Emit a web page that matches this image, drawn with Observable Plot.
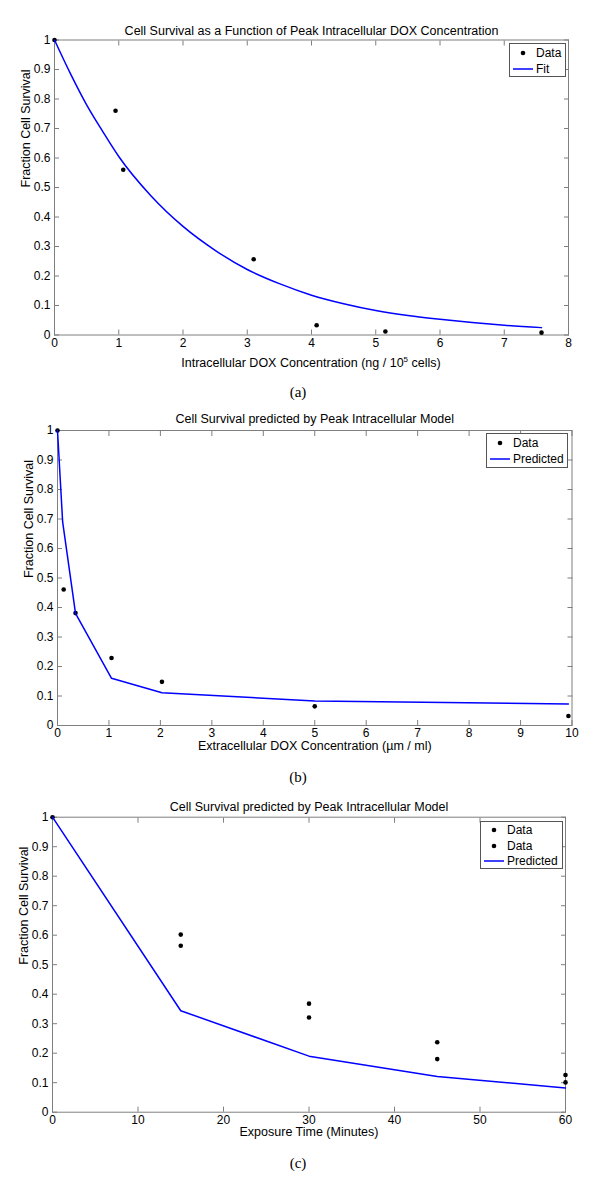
<!DOCTYPE html>
<html><head><meta charset="utf-8">
<script src="https://cdn.jsdelivr.net/npm/d3@7"></script>
<script src="https://cdn.jsdelivr.net/npm/@observablehq/plot@0.6"></script>
<style>
body{margin:0;background:#fff;width:600px;height:1188px;position:relative;overflow:hidden;font-family:"Liberation Sans",Arial,sans-serif;}
.panel{position:absolute;left:0;}
.cap{position:absolute;left:0;width:596px;text-align:center;font-family:"Liberation Serif","Times New Roman",serif;font-size:15px;line-height:18px;color:#000;}
.legend{position:absolute;border:1px solid #555;background:#fff;font-size:12px;color:#000;box-sizing:border-box;}
.legend .row{position:absolute;left:0;height:14px;line-height:14px;white-space:nowrap;}
.legend svg{position:absolute;left:0;top:0;}
.legend span{position:absolute;left:26px;top:0;}
.xlab{position:absolute;text-align:center;font-size:12.5px;line-height:14px;color:#000;}
.xlab sup{font-size:8px;vertical-align:5px;line-height:0;}
</style></head><body>
<script>
// ---------- Data ----------
const yTicks = [0, 0.1, 0.2, 0.3, 0.4, 0.5, 0.6, 0.7, 0.8, 0.9, 1];

// Panel (a)
const xTicksA = [0, 1, 2, 3, 4, 5, 6, 7, 8];
const dataAX = [0, 0.95, 1.07, 3.1, 4.08, 5.15, 7.58];
const dataAY = [1, 0.76, 0.56, 0.257, 0.033, 0.012, 0.008];
const fitAX = [0, 0.25, 0.5, 0.75, 1, 1.5, 2, 2.5, 3, 3.5, 4, 4.5, 5, 5.5, 6, 6.5, 7, 7.58];
const fitAY = [1, 0.885, 0.78, 0.69, 0.605, 0.472, 0.368, 0.287, 0.222, 0.174, 0.135, 0.106, 0.083, 0.066, 0.053, 0.042, 0.033, 0.025];

// Panel (b)
const xTicksB = [0, 1, 2, 3, 4, 5, 6, 7, 8, 9, 10];
const dataBX = [0, 0.12, 0.35, 1.05, 2.03, 5.0, 9.93];
const dataBY = [1, 0.461, 0.381, 0.229, 0.148, 0.065, 0.032];
const predBX = [0, 0.1, 0.35, 1.05, 2.03, 5.0, 9.93];
const predBY = [1, 0.69, 0.38, 0.16, 0.111, 0.083, 0.073];

// Panel (c)
const xTicksC = [0, 10, 20, 30, 40, 50, 60];
const dataC1X = [0, 15, 30, 45, 60];
const dataC1Y = [1, 0.602, 0.368, 0.237, 0.126];
const dataC2X = [15, 30, 45, 60];
const dataC2Y = [0.564, 0.321, 0.180, 0.101];
const predCX = [0, 15, 30, 45, 60];
const predCY = [1, 0.344, 0.19, 0.121, 0.082];

// ---------- Helpers ----------
const zip = (xs, ys) => xs.map((x, i) => ({x, y: ys[i]}));
const GRAY = "#7f7f7f";
const BLUE = "#0000ff";
const FONT = "Liberation Sans, Arial, sans-serif";
const TICKFS = 12;
const LABFS = 12.5;

function panel(cfg) {
  const chart = Plot.plot({
    width: 600, height: cfg.height,
    marginLeft: cfg.ml, marginRight: cfg.mr, marginTop: cfg.mt, marginBottom: cfg.mb,
    x: {domain: cfg.xDomain},
    y: {domain: [0, 1]},
    style: {fontFamily: FONT, fontSize: "12px", color: "black", background: "white", overflow: "visible"},
    marks: [
      Plot.frame({stroke: GRAY}),
      Plot.axisX(cfg.xTicks, {anchor: "bottom", tickSize: -5, tickPadding: 8, stroke: GRAY, fill: "black", label: null, tickFormat: d => String(d), fontSize: TICKFS}),
      Plot.axisX(cfg.xTicks, {anchor: "top", tickSize: -5, stroke: GRAY, fill: "black", label: null, tickFormat: () => ""}),
      Plot.axisY(yTicks, {anchor: "left", tickSize: -5, tickPadding: 9, stroke: GRAY, fill: "black", label: null, tickFormat: d => String(d), fontSize: TICKFS}),
      Plot.axisY(yTicks, {anchor: "right", tickSize: -5, stroke: GRAY, fill: "black", label: null, tickFormat: () => ""}),
      ...cfg.marks,
      Plot.text([cfg.title], {frameAnchor: "top", dy: -cfg.titleDy, fill: "black", fontSize: LABFS}),
      Plot.text(["Fraction Cell Survival"], {frameAnchor: "left", rotate: -90, dx: -29, fill: "black", fontSize: LABFS}),
      ...(cfg.xlabel ? [Plot.text([cfg.xlabel], {frameAnchor: "bottom", dy: cfg.xlabelDy, fill: "black", fontSize: LABFS})] : [])
    ]
  });
  chart.classList.add("panel");
  chart.style.top = cfg.top + "px";
  chart.style.position = "absolute";
  chart.querySelectorAll('g[aria-label$="tick label"]').forEach(g => {
    g.setAttribute("font-size", TICKFS);
    g.style.fontSize = TICKFS + "px";
    g.style.fontFamily = FONT;
  });
  document.body.appendChild(chart);
}

function legend(left, top, w, h, rows, rowYs) {
  const box = document.createElement("div");
  box.className = "legend";
  Object.assign(box.style, {left: left + "px", top: top + "px", width: w + "px", height: h + "px"});
  rows.forEach((r, i) => {
    const row = document.createElement("div");
    row.className = "row";
    row.style.top = (rowYs[i] - 7) + "px";
    row.style.width = (w - 2) + "px";
    const svg = r.type === "dot"
      ? `<svg width="26" height="14"><circle cx="13" cy="7" r="2.3" fill="black"/></svg>`
      : `<svg width="26" height="14"><line x1="3" x2="23" y1="7" y2="7" stroke="${BLUE}" stroke-width="1.5"/></svg>`;
    row.innerHTML = svg + `<span>${r.label}</span>`;
    box.appendChild(row);
  });
  document.body.appendChild(box);
}

function caption(text, cy) {
  const d = document.createElement("div");
  d.className = "cap";
  d.style.top = (cy - 9) + "px";
  d.textContent = text;
  document.body.appendChild(d);
}

// ---------- Panel (a) ----------
panel({
  top: 0, height: 375, ml: 54, mr: 32, mt: 39.5, mb: 40.5,
  xDomain: [0, 8], xTicks: xTicksA,
  title: "Cell Survival as a Function of Peak Intracellular DOX Concentration", titleDy: 14,
  marks: [
    Plot.dot(zip(dataAX, dataAY), {x: "x", y: "y", r: 2.3, fill: "black"}),
    Plot.line(zip(fitAX, fitAY), {x: "x", y: "y", stroke: BLUE, strokeWidth: 1.5, curve: "monotone-x"})
  ]
});
{
  const d = document.createElement("div");
  d.className = "xlab";
  Object.assign(d.style, {left: "111px", width: "400px", top: "356px"});
  d.innerHTML = "Intracellular DOX Concentration (ng / 10<sup>5</sup> cells)";
  document.body.appendChild(d);
}
legend(509, 43, 57, 34, [{type: "dot", label: "Data"}, {type: "line", label: "Fit"}], [9, 25]);
caption("(a)", 392);

// ---------- Panel (b) ----------
panel({
  top: 400, height: 360, ml: 57, mr: 28.5, mt: 30, mb: 35,
  xDomain: [0, 10], xTicks: xTicksB,
  title: "Cell Survival predicted by Peak Intracellular Model", titleDy: 16,
  xlabel: "Extracellular DOX Concentration (\u00b5m / ml)", xlabelDy: 24,
  marks: [
    Plot.dot(zip(dataBX, dataBY), {x: "x", y: "y", r: 2.3, fill: "black"}),
    Plot.line(zip(predBX, predBY), {x: "x", y: "y", stroke: BLUE, strokeWidth: 1.5})
  ]
});
legend(486, 433, 82, 35, [{type: "dot", label: "Data"}, {type: "line", label: "Predicted"}], [9, 25]);
caption("(b)", 777);

// ---------- Panel (c) ----------
panel({
  top: 790, height: 360, ml: 52, mr: 35, mt: 26.7, mb: 38.3,
  xDomain: [0, 60], xTicks: xTicksC,
  title: "Cell Survival predicted by Peak Intracellular Model", titleDy: 15,
  xlabel: "Exposure Time (Minutes)", xlabelDy: 24,
  marks: [
    Plot.dot(zip(dataC1X, dataC1Y), {x: "x", y: "y", r: 2.3, fill: "black"}),
    Plot.dot(zip(dataC2X, dataC2Y), {x: "x", y: "y", r: 2.3, fill: "black"}),
    Plot.line(zip(predCX, predCY), {x: "x", y: "y", stroke: BLUE, strokeWidth: 1.5})
  ]
});
legend(480, 821, 83, 48, [{type: "dot", label: "Data"}, {type: "dot", label: "Data"}, {type: "line", label: "Predicted"}], [8, 23.5, 39]);
caption("(c)", 1163);
</script>
</body></html>
